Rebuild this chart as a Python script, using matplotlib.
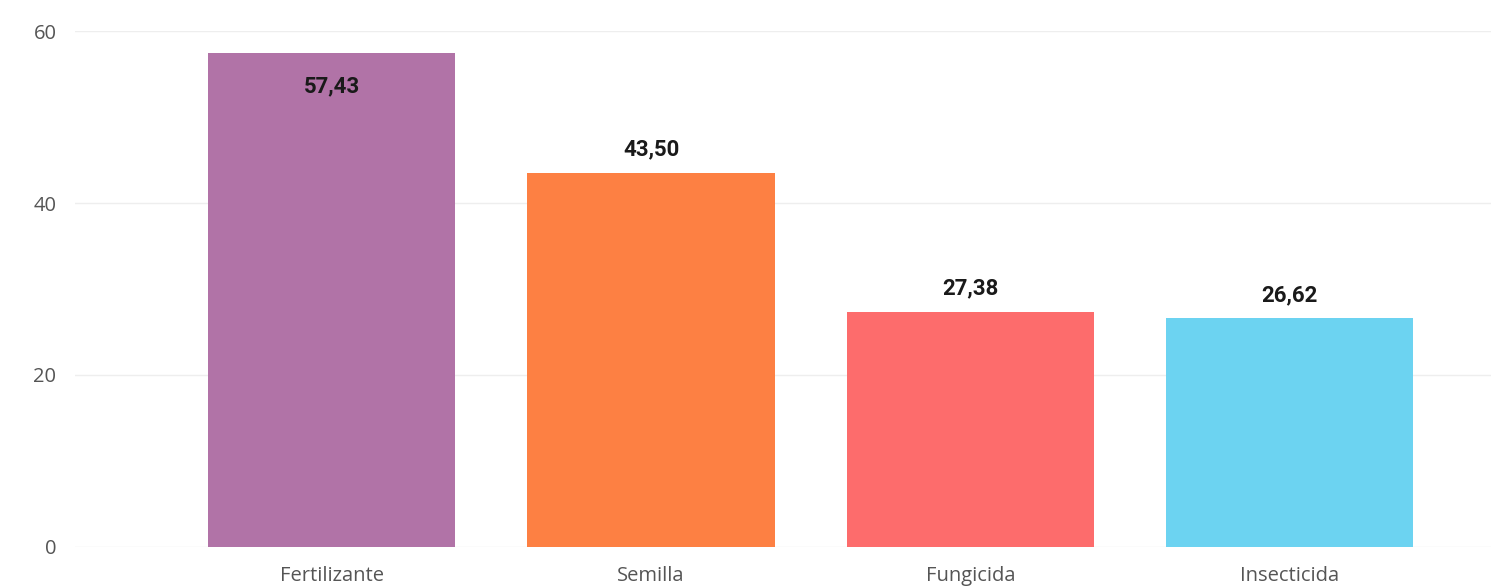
import matplotlib.pyplot as plt

categorias = ['Fertilizante', 'Semilla', 'Fungicida', 'Insecticida']
valores = [57.43, 43.50, 27.38, 26.62]
colores = ['#B173A7', '#FD8043', '#FD6C6C', '#6CD3F1']
yticks = [0, 20, 40, 60]

plt.rcParams['font.family'] = ['Open Sans', 'DejaVu Sans']

fig = plt.figure(figsize=(14.91, 5.88), dpi=100)
ax = fig.add_axes([0.05, 0.07, 0.95, 0.877])

x = range(len(categorias))
ax.bar(x, valores, width=0.774, color=colores, zorder=2)

# etiquetas de valor (dentro de la barra si no cabe encima)
for i, v in enumerate(valores):
    if v + 6 > 60:
        ax.text(i, v - 3.8, f'{v:.2f}'.replace('.', ','), ha='center', va='center',
                fontsize=16, fontweight='bold', color='#1a1a1a',
                family=['Roboto', 'DejaVu Sans'])
    else:
        ax.text(i, v + 2.7, f'{v:.2f}'.replace('.', ','), ha='center', va='center',
                fontsize=16, fontweight='bold', color='#1a1a1a',
                family=['Roboto', 'DejaVu Sans'])

ax.set_xlim(-0.805, 3.63)
ax.set_ylim(0, 60)
ax.set_yticks(yticks)
ax.set_xticks(list(x))
ax.set_xticklabels(categorias)
ax.tick_params(axis='both', length=0, colors='#555555', labelsize=14.5)
ax.tick_params(axis='y', pad=13)
ax.tick_params(axis='x', pad=14)
ax.grid(axis='y', color='#eeeeee', linewidth=1, zorder=0)
for s in ax.spines.values():
    s.set_visible(False)

fig.savefig('out.png', dpi=100, facecolor='white')
